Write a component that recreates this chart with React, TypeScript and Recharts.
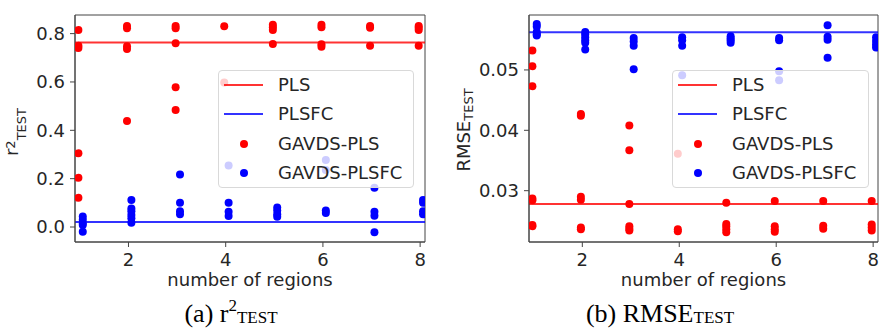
import React from "react";
import { ScatterChart, Scatter, XAxis, YAxis, ReferenceLine, ReferenceArea, Legend } from "recharts";

// number of regions, tick values
const regions = [1, 2, 3, 4, 5, 6, 7, 8];
const xTicks = [2, 4, 6, 8];
const r2Ticks = [0, 0.2, 0.4, 0.6, 0.8];
const rmseTicks = [0.03, 0.04, 0.05];
const seriesNames = ["PLS", "PLSFC", "GAVDS-PLS", "GAVDS-PLSFC"];

// (a) r2 TEST
const r2Pls = 0.763;
const r2Plsfc = 0.021;
const r2GavdsPls: number[][] = [
  [0.815, 0.75, 0.74, 0.305, 0.204, 0.121],
  [0.832, 0.822, 0.748, 0.736, 0.439],
  [0.832, 0.822, 0.76, 0.578, 0.484],
  [0.83, 0.598],
  [0.837, 0.826, 0.815, 0.757],
  [0.837, 0.826, 0.756, 0.746],
  [0.832, 0.824, 0.75],
  [0.832, 0.824, 0.815, 0.75],
];
const r2GavdsPlsfc: number[][] = [
  [0.043, 0.03, 0.015, 0.008, -0.02],
  [0.112, 0.077, 0.065, 0.05, 0.036, 0.018],
  [0.217, 0.1, 0.065, 0.053],
  [0.254, 0.1, 0.063, 0.046],
  [0.081, 0.068, 0.053, 0.042],
  [0.277, 0.236, 0.068, 0.058],
  [0.162, 0.063, 0.047, -0.022],
  [0.112, 0.1, 0.065, 0.053],
];

// (b) RMSE TEST
const rmsePls = 0.0278;
const rmsePlsfc = 0.05625;
const rmseGavdsPls: number[][] = [
  [0.0532, 0.0506, 0.0473, 0.0287, 0.0284, 0.0243, 0.0241],
  [0.0427, 0.0424, 0.029, 0.0285, 0.0239, 0.0236],
  [0.0408, 0.0367, 0.0278, 0.0241, 0.0237, 0.0234],
  [0.0361, 0.0236, 0.0233],
  [0.028, 0.0245, 0.0241, 0.0236, 0.0231],
  [0.0283, 0.0241, 0.0236, 0.0232],
  [0.0283, 0.0242, 0.0237],
  [0.0283, 0.0244, 0.0239, 0.0234],
];
const rmseGavdsPlsfc: number[][] = [
  [0.0576, 0.0572, 0.0563, 0.0559, 0.0557],
  [0.0563, 0.0559, 0.0554, 0.0549, 0.0545, 0.0534],
  [0.0553, 0.0547, 0.054, 0.0501],
  [0.0554, 0.0549, 0.054, 0.0491],
  [0.0556, 0.0552, 0.0549, 0.0545],
  [0.0553, 0.0549, 0.0498, 0.0483],
  [0.0574, 0.0555, 0.055, 0.052],
  [0.0554, 0.0548, 0.0542, 0.0537],
];

const FONT = "DejaVu Sans, sans-serif";
const TEXT = "#262626";
const FRAME = "#444";
const RED = "#ff0000";
const BLUE = "#0000ff";
const X_DOMAIN = [0.9, 8.1];
// the two scatter groups are drawn slightly apart on each region
const PLS_SHIFT = -0.03;
const PLSFC_SHIFT = 0.06;

const toPoints = (values: number[][], shift: number) =>
  regions.flatMap((r, i) => values[i].map((v) => ({ x: r + shift, y: v })));

const dot = (color: string) => (props: any) =>
  <circle cx={props.cx} cy={props.cy} r={4} fill={color} />;

const legendItems = [
  { name: seriesNames[0], color: RED, kind: "line" },
  { name: seriesNames[1], color: BLUE, kind: "line" },
  { name: seriesNames[2], color: RED, kind: "dot" },
  { name: seriesNames[3], color: BLUE, kind: "dot" },
];

const LegendBox = () => (
  <div style={{
    boxSizing: "border-box", width: "100%", height: "100%", position: "relative",
    border: "1px solid #d9d9d9", borderRadius: 4, background: "rgba(255,255,255,0.8)",
    fontFamily: FONT, fontSize: 18, color: TEXT,
  }}>
    {legendItems.map((it, i) => (
      <div key={it.name} style={{ position: "absolute", left: 0, top: i * 29.3, height: 28, width: "100%" }}>
        {it.kind === "line"
          ? <div style={{ position: "absolute", left: 5, top: 13, width: 39, height: 2, background: it.color, opacity: 0.8 }} />
          : <div style={{ position: "absolute", left: 21, top: 10, width: 8, height: 8, borderRadius: "50%", background: it.color }} />}
        <span style={{ position: "absolute", left: 59, top: 0, lineHeight: "28px", whiteSpace: "nowrap" }}>{it.name}</span>
      </div>
    ))}
  </div>
);

type PanelProps = {
  left: number;
  yAxisWidth: number;
  marginRight: number;
  yDomain: number[];
  yTicks: number[];
  digits: number;
  pls: number;
  plsfc: number;
  gPls: number[][];
  gPlsfc: number[][];
  legendLeft: number;
  legendWidth: number;
};

const Panel = (p: PanelProps) => (
  <div style={{ position: "absolute", left: p.left, top: 0 }}>
    <ScatterChart width={440} height={329} margin={{ top: 15, right: p.marginRight, bottom: 43, left: 30 }}>
      <XAxis
        dataKey="x" type="number" domain={X_DOMAIN} ticks={xTicks} allowDataOverflow
        height={44} stroke={FRAME} tickSize={5} tickMargin={6}
        tick={{ fontSize: 18, fill: TEXT }}
        label={{ value: "number of regions", position: "insideBottom", offset: 0, fontSize: 18, fill: TEXT }}
      />
      <YAxis
        dataKey="y" type="number" domain={p.yDomain} ticks={p.yTicks} allowDataOverflow
        width={p.yAxisWidth} stroke={FRAME} tickSize={5} tickMargin={5}
        tick={{ fontSize: 18, fill: TEXT }} tickFormatter={(v: number) => v.toFixed(p.digits)}
      />
      {/* full frame round the plot area */}
      <ReferenceArea x1={X_DOMAIN[0]} x2={X_DOMAIN[1]} y1={p.yDomain[0]} y2={p.yDomain[1]}
        fill="none" fillOpacity={0} stroke={FRAME} strokeWidth={1} ifOverflow="visible" />
      <ReferenceLine y={p.pls} stroke={RED} strokeOpacity={0.8} strokeWidth={2} />
      <ReferenceLine y={p.plsfc} stroke={BLUE} strokeOpacity={0.8} strokeWidth={2} />
      <Scatter name={seriesNames[2]} data={toPoints(p.gPls, PLS_SHIFT)} fill={RED}
        shape={dot(RED)} isAnimationActive={false} />
      <Scatter name={seriesNames[3]} data={toPoints(p.gPlsfc, PLSFC_SHIFT)} fill={BLUE}
        shape={dot(BLUE)} isAnimationActive={false} />
      <Legend
        layout="vertical" align="center" verticalAlign="middle"
        wrapperStyle={{ position: "absolute", left: p.legendLeft, top: 70, width: p.legendWidth, height: 118 }}
        content={() => <LegendBox />}
      />
    </ScatterChart>
  </div>
);

export default function App() {
  return (
    <div style={{ position: "absolute", left: 0, top: 0, width: 880, height: 329, background: "#fff", fontFamily: FONT, overflow: "hidden" }}>
      <Panel left={0} yAxisWidth={45} marginRight={15} yDomain={[-0.062, 0.877]} yTicks={r2Ticks} digits={1}
        pls={r2Pls} plsfc={r2Plsfc} gPls={r2GavdsPls} gPlsfc={r2GavdsPlsfc} legendLeft={218} legendWidth={196} />
      <Panel left={440} yAxisWidth={59} marginRight={2} yDomain={[0.0215, 0.0591]} yTicks={rmseTicks} digits={2}
        pls={rmsePls} plsfc={rmsePlsfc} gPls={rmseGavdsPls} gPlsfc={rmseGavdsPlsfc} legendLeft={232} legendWidth={197} />
      <svg width={880} height={329} style={{ position: "absolute", left: 0, top: 0, pointerEvents: "none" }}>
        <text x={18} y={132} transform="rotate(-90 18 132)" textAnchor="middle" fontFamily={FONT} fontSize={18} fill={TEXT}>
          r<tspan fontSize={13} dy={-3}>2</tspan><tspan fontSize={13} dy={11}>TEST</tspan>
        </text>
        <text x={470} y={130} transform="rotate(-90 470 130)" textAnchor="middle" fontFamily={FONT} fontSize={18} fill={TEXT}>
          RMSE<tspan fontSize={13} dy={3}>TEST</tspan>
        </text>
        <text x={231} y={322} textAnchor="middle" fontFamily="Liberation Serif, serif" fontSize={26} fill="#000">
          (a) r<tspan fontSize={17} dy={-11}>2</tspan><tspan fontSize={17} dy={12}>TEST</tspan>
        </text>
        <text x={660} y={322} textAnchor="middle" fontFamily="Liberation Serif, serif" fontSize={26} fill="#000">
          (b) RMSE<tspan fontSize={17} dy={1}>TEST</tspan>
        </text>
      </svg>
    </div>
  );
}
